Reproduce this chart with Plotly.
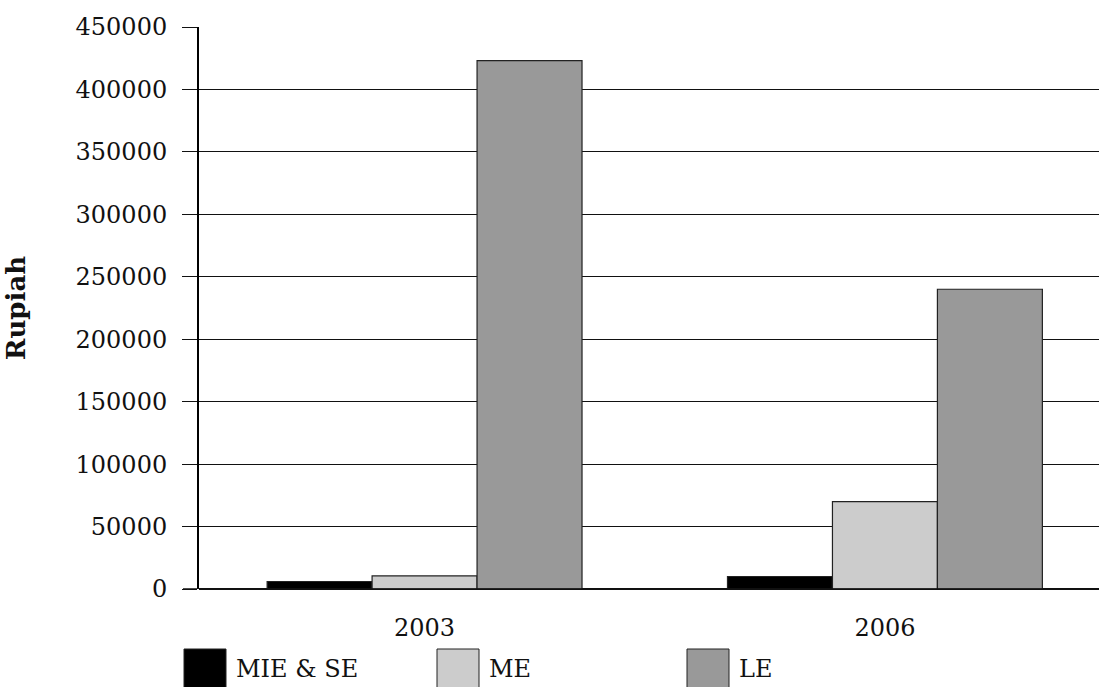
import plotly.graph_objects as go

years = ["2003", "2006"]
series_names = ["MIE & SE", "ME", "LE"]
mie_se = [6000, 10000]
me = [10500, 70000]
le = [423000, 240000]
y_ticks = [0, 50000, 100000, 150000, 200000, 250000, 300000, 350000, 400000, 450000]

colors = ["#000000", "#cccccc", "#999999"]
font_family = "DejaVu Serif, serif"

# plot area in pixels (for placing the swatch legend under the axis)
PLOT_L, PLOT_W = 199, 900
PLOT_B, PLOT_H = 589, 562


def px_x(x):
    return (x - PLOT_L) / PLOT_W


def px_y(y):
    return (PLOT_B - y) / PLOT_H


fig = go.Figure()
for name, vals, col in zip(series_names, [mie_se, me, le], colors):
    fig.add_trace(go.Bar(
        x=[0, 1], y=vals, name=name,
        marker=dict(color=col, line=dict(color="#222222", width=1.2)),
        showlegend=False,
    ))

# Legend: large square swatches with labels below the plot
legend_x0 = [184, 437, 687]
for name, col, x0 in zip(series_names, colors, legend_x0):
    fig.add_shape(type="rect", xref="paper", yref="paper",
                  x0=px_x(x0), x1=px_x(x0 + 42),
                  y0=px_y(690), y1=px_y(649),
                  fillcolor=col, line=dict(color="#222222", width=1))
    fig.add_annotation(xref="paper", yref="paper",
                       x=px_x(x0 + 50), y=px_y(669),
                       text=name, showarrow=False, xanchor="left", yanchor="middle",
                       font=dict(family=font_family, size=24, color="#111111"))

# baseline extends left under the tick marks
fig.add_shape(type="line", xref="paper", yref="y",
              x0=px_x(183), x1=1, y0=0, y1=0,
              line=dict(color="#111111", width=1.5))

fig.update_layout(
    width=1099, height=687,
    margin=dict(l=199, r=0, t=27, b=98),
    paper_bgcolor="white", plot_bgcolor="white",
    barmode="group", bargap=0.316, bargroupgap=0,
    font=dict(family=font_family, size=24, color="#111111"),
    xaxis=dict(
        range=[-0.49, 1.465], tickvals=[0, 1], ticktext=years,
        showgrid=False, zeroline=False, showline=False, ticks="",
        tickfont=dict(size=24), ticklabelstandoff=22,
    ),
    yaxis=dict(
        range=[0, 450000], tickvals=y_ticks, ticktext=[str(v) for v in y_ticks],
        showgrid=True, gridcolor="#111111", gridwidth=1,
        zeroline=True, zerolinecolor="#111111", zerolinewidth=1.5,
        showline=True, linecolor="#000000", linewidth=2,
        ticks="outside", ticklen=15, tickcolor="#111111", tickwidth=1,
        tickfont=dict(size=24), ticklabelstandoff=10,
        title=dict(text="<b>Rupiah</b>", font=dict(size=26), standoff=42),
    ),
)

fig.write_html("out.html")
